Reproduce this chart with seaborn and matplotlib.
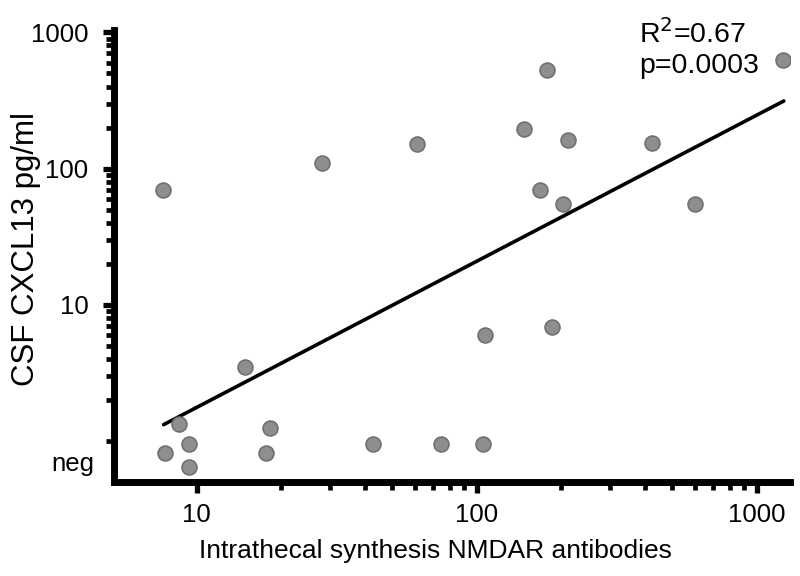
import numpy as np
import pandas as pd
import matplotlib
matplotlib.use("Agg")
import matplotlib.pyplot as plt
import matplotlib.ticker as mticker
import matplotlib.transforms as mtransforms
import seaborn as sns

# Data
nmdar_ab = [7.55, 7.68, 8.68, 9.36, 9.36, 14.9, 18.3, 17.7, 28.1, 42.8, 61.4, 74.4,
            105, 107, 147, 178, 168, 186, 203, 212, 424, 600, 1240]
cxcl13 = [69.6, 0.82, 1.34, 0.96, 0.65, 3.52, 1.24, 0.82, 110, 0.96, 151, 0.96,
          0.96, 6.0, 195, 527, 69.6, 6.9, 55, 162, 154, 55, 624]
fit_x = [7.62, 1250]
fit_y = [1.32, 313]
y_tick_vals = [10, 100, 1000]
y_tick_labels = ["10", "100", "1000"]
neg_label = "neg"
neg_value = 0.68
x_tick_vals = [10, 100, 1000]
x_tick_labels = ["10", "100", "1000"]
stats_lines = ["R$^2$=0.67", "p=0.0003"]

sns.set_theme(style="white")
plt.rcParams["font.family"] = ["Liberation Sans", "DejaVu Sans"]
plt.rcParams["text.color"] = "black"
plt.rcParams["axes.labelcolor"] = "black"
plt.rcParams["xtick.color"] = "black"
plt.rcParams["ytick.color"] = "black"

df = pd.DataFrame({"x": nmdar_ab, "y": cxcl13})
fit = pd.DataFrame({"x": fit_x, "y": fit_y})

fig = plt.figure(figsize=(8, 5.76), dpi=100)
ax = fig.add_axes([0.142, 0.163, 0.846, 0.785])

sns.lineplot(data=fit, x="x", y="y", ax=ax, color="black", linewidth=2.6, zorder=2)
sns.scatterplot(data=df, x="x", y="y", ax=ax, s=115, color="#8e8e8e",
                edgecolor="#717171", linewidth=1.2, zorder=3)

ax.set_xscale("log")
ax.set_yscale("log")
ax.set_xlim(5.05, 1320)
ax.set_ylim(0.50, 1040)

ax.set_xticks(x_tick_vals)
ax.set_xticklabels(x_tick_labels)
ax.set_xticks([v * m for m in (10, 100) for v in range(2, 10)], minor=True)
ax.set_yticks(y_tick_vals)
ax.set_yticklabels(y_tick_labels)
ax.set_yticks([v * m for m in (1, 10, 100) for v in range(1, 10) if not (v == 1 and m > 1)], minor=True)
ax.xaxis.set_minor_formatter(mticker.NullFormatter())
ax.yaxis.set_minor_formatter(mticker.NullFormatter())

ax.tick_params(axis="both", which="major", length=8, width=3.8,
               labelsize=18.5, direction="out", left=True, bottom=True)
ax.tick_params(axis="both", which="minor", length=5.5, width=3.4,
               direction="out", left=True, bottom=True)
ax.tick_params(axis="x", which="major", pad=7)
ax.tick_params(axis="y", which="major", pad=10)

for side in ("top", "right"):
    ax.spines[side].set_visible(False)
for side in ("left", "bottom"):
    ax.spines[side].set_linewidth(5)
    ax.spines[side].set_color("black")

# "neg" label on the y axis (no tick mark)
trans = mtransforms.blended_transform_factory(ax.transAxes, ax.transData)
ax.text(-0.028, neg_value, neg_label, transform=trans, fontsize=18.5,
        ha="right", va="center")

ax.set_xlabel("Intrathecal synthesis NMDAR antibodies", fontsize=19)
ax.xaxis.set_label_coords(0.475, -0.125)
ax.set_ylabel("CSF CXCL13 pg/ml", fontsize=22.5)
ax.yaxis.set_label_coords(-0.108, 0.515)

ax.text(0.776, 0.971, stats_lines[0], transform=ax.transAxes, fontsize=20.5,
        va="baseline", ha="left")
ax.text(0.776, 0.905, stats_lines[1], transform=ax.transAxes, fontsize=20.5,
        va="baseline", ha="left")

fig.savefig("out.png", dpi=100)
